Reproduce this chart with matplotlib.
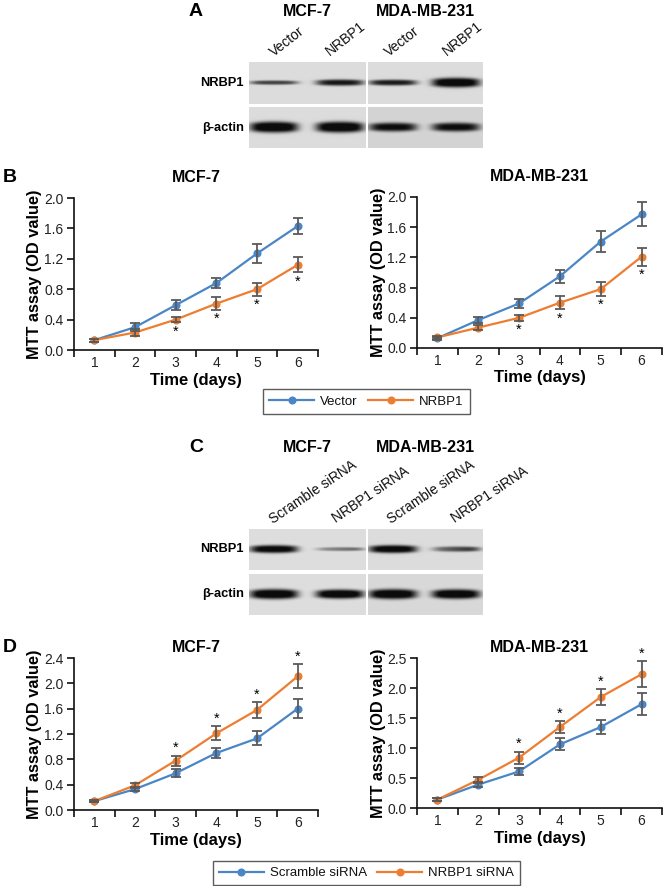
import numpy as np
import matplotlib
matplotlib.use("Agg")
import matplotlib.pyplot as plt

plt.rcParams['font.family'] = ['Liberation Sans', 'DejaVu Sans']

# ---------------- data ----------------
days = [1, 2, 3, 4, 5, 6]
day_labels = ["1", "2", "3", "4", "5", "6"]

# Panel B (overexpression)
b_mcf_vector = [0.13, 0.30, 0.59, 0.88, 1.27, 1.63]
b_mcf_vector_err = [0.02, 0.05, 0.07, 0.07, 0.13, 0.11]
b_mcf_nrbp1 = [0.13, 0.23, 0.40, 0.61, 0.80, 1.12]
b_mcf_nrbp1_err = [0.02, 0.04, 0.035, 0.085, 0.085, 0.10]

b_mda_vector = [0.13, 0.37, 0.59, 0.95, 1.41, 1.77]
b_mda_vector_err = [0.02, 0.04, 0.055, 0.085, 0.14, 0.16]
b_mda_nrbp1 = [0.14, 0.27, 0.40, 0.60, 0.78, 1.21]
b_mda_nrbp1_err = [0.02, 0.03, 0.04, 0.09, 0.09, 0.12]

b_sig_days = [3, 4, 5, 6]

# Panel D (knockdown)
d_mcf_scramble = [0.14, 0.33, 0.58, 0.90, 1.13, 1.60]
d_mcf_scramble_err = [0.02, 0.03, 0.065, 0.08, 0.11, 0.15]
d_mcf_sirna = [0.14, 0.39, 0.78, 1.21, 1.58, 2.11]
d_mcf_sirna_err = [0.02, 0.04, 0.08, 0.11, 0.12, 0.19]

d_mda_scramble = [0.14, 0.39, 0.61, 1.06, 1.35, 1.73]
d_mda_scramble_err = [0.02, 0.04, 0.06, 0.10, 0.12, 0.18]
d_mda_sirna = [0.14, 0.47, 0.84, 1.35, 1.85, 2.23]
d_mda_sirna_err = [0.02, 0.05, 0.10, 0.10, 0.13, 0.22]

d_sig_days = [3, 4, 5, 6]

# Western blot (band intensity 0-1, band thickness)
cell_lines = ["MCF-7", "MDA-MB-231"]
a_lanes = ["Vector", "NRBP1", "Vector", "NRBP1"]
a_nrbp1_int = [0.62, 0.80, 0.78, 1.0]
a_nrbp1_thick = [2.2, 3.2, 3.0, 4.8]
a_actin_int = [1.0, 1.0, 0.86, 0.86]
a_actin_thick = [5.5, 5.5, 4.5, 4.5]

c_lanes = ["Scramble siRNA", "NRBP1 siRNA", "Scramble siRNA", "NRBP1 siRNA"]
c_nrbp1_int = [0.92, 0.52, 0.94, 0.74]
c_nrbp1_thick = [4.0, 2.0, 4.0, 2.7]
c_actin_int = [1.0, 1.0, 1.0, 1.0]
c_actin_thick = [5.0, 4.6, 5.0, 4.8]

BLUE = "#4a86c6"
ORANGE = "#ed7d31"
ERR = "#5a5a5a"

W, H = 664, 886
fig = plt.figure(figsize=(W / 100, H / 100), dpi=100)


def ax_px(x0, y0, x1, y1):
    return fig.add_axes([x0 / W, 1 - y1 / H, (x1 - x0) / W, (y1 - y0) / H])


def ftext(x, y, s, **kw):
    fig.text(x / W, 1 - y / H, s, **kw)


# ---------------- blots ----------------
lane_centers = [274, 340, 393, 456]
block_x = [(249, 366), (368, 483)]


def blot_block(x0, x1, y0, y1, lanes_idx, ints, thicks, bg, taper=None):
    ax = ax_px(x0, y0, x1, y1)
    up = 4
    nx = int((x1 - x0) * up)
    ny = int((y1 - y0) * up)
    xs = np.linspace(x0, x1, nx)
    ys = np.linspace(y0, y1, ny)
    X, Y = np.meshgrid(xs, ys)
    yc = y0 + (y1 - y0) * 0.49
    dens = np.zeros_like(X)
    for k, li in enumerate(lanes_idx):
        xc = lane_centers[li]
        hw = 24
        horiz = np.exp(-np.abs((X - xc) / hw) ** 5)
        if taper is not None and taper[k]:
            horiz = horiz * (0.55 + 0.45 * np.clip((X - (xc - hw)) / (2 * hw), 0, 1))
        # thinner towards the band ends
        th = thicks[li] * (0.75 + 0.25 * np.exp(-((X - xc) / hw) ** 2))
        vert = np.exp(-np.abs((Y - yc) / th) ** 3)
        d = ints[li] * horiz * vert
        dens = 1 - (1 - dens) * (1 - d)
    img = bg - (bg - 0.05) * np.clip(dens * 1.2, 0, 1)
    ax.imshow(img, cmap="gray", vmin=0, vmax=1, aspect="auto",
              interpolation="bilinear", extent=(x0, x1, y1, y0))
    ax.set_axis_off()


def blot_panel(letter, top, lanes, lane_lx, angle, nrbp_int, nrbp_th,
               act_int, act_th, rows, bgs, taper=None):
    ftext(196, top, letter, fontsize=14, fontweight="bold", ha="center", va="center")
    ftext(307, top, cell_lines[0], fontsize=11.5, fontweight="bold", ha="center", va="center")
    ftext(425, top, cell_lines[1], fontsize=11.5, fontweight="bold", ha="center", va="center")
    for (x, y), lab in zip(lane_lx, lanes):
        fig.text(x / W, 1 - y / H, lab, fontsize=10, rotation=angle,
                 rotation_mode="anchor", ha="left", va="baseline", color="#111")
    (r1a, r1b), (r2a, r2b) = rows
    ftext(244, (r1a + r1b) / 2, "NRBP1", fontsize=9.3, fontweight="bold",
          ha="right", va="center")
    ftext(244, (r2a + r2b) / 2, "β-actin", fontsize=9.3, fontweight="bold",
          ha="right", va="center")
    for b, (bx0, bx1) in enumerate(block_x):
        idx = [2 * b, 2 * b + 1]
        tp = None if taper is None else [taper[i] for i in idx]
        blot_block(bx0, bx1, r1a, r1b, idx, nrbp_int, nrbp_th, bgs[b][0], tp)
        blot_block(bx0, bx1, r2a, r2b, idx, act_int, act_th, bgs[b][1])


blot_panel("A", 11, a_lanes, [(274, 57), (330, 56), (389, 57), (447, 56)], 38,
           a_nrbp1_int, a_nrbp1_thick, a_actin_int, a_actin_thick,
           [(62, 104), (107, 148)], [(0.86, 0.86), (0.86, 0.83)])

blot_panel("C", 448, c_lanes, [(273, 524), (336, 523), (391, 524), (455, 523)], 34,
           c_nrbp1_int, c_nrbp1_thick, c_actin_int, c_actin_thick,
           [(529, 570), (574, 615)], [(0.87, 0.87), (0.86, 0.85)],
           taper=[False, True, False, True])


# ---------------- line charts ----------------
def line_chart(rect, title, title_gap, s1, e1, s2, e2, c1, c2, lab1, lab2,
               ymax, ystep, sig_days, star_below):
    x0, y0, x1, y1 = rect
    ax = ax_px(x0, y0, x1, y1)
    h1 = ax.plot(days, s1, "-o", color=c1, lw=1.6, ms=4.8, label=lab1, zorder=3)[0]
    h2 = ax.plot(days, s2, "-o", color=c2, lw=1.6, ms=4.8, label=lab2, zorder=3)[0]
    for s, e in ((s1, e1), (s2, e2)):
        ax.errorbar(days, s, yerr=e, fmt="none", ecolor=ERR, elinewidth=1.3,
                    capsize=3.6, capthick=1.3, zorder=4)
    star_series, star_err = (s2, e2)
    for d in sig_days:
        i = days.index(d)
        if star_below:
            ax.annotate("*", xy=(d, star_series[i] - star_err[i]), xytext=(0, -1.5),
                        textcoords="offset points", ha="center", va="top", fontsize=10.5)
        else:
            ax.annotate("*", xy=(d, star_series[i] + star_err[i]), xytext=(0, 0.5),
                        textcoords="offset points", ha="center", va="bottom", fontsize=10.5)
    ax.set_xlim(0.5, 6.5)
    ax.set_ylim(0, ymax)
    ax.set_yticks(np.arange(0, ymax + 1e-9, ystep))
    ax.set_yticklabels([f"{v:.1f}" for v in np.arange(0, ymax + 1e-9, ystep)])
    ax.set_xticks(np.arange(0.5, 6.51, 1.0))
    ax.set_xticklabels([])
    ax.set_xticks(days, minor=True)
    ax.set_xticklabels(day_labels, minor=True)
    ax.tick_params(axis="x", which="major", direction="out", length=5, width=1.2, color="#111")
    ax.tick_params(axis="x", which="minor", length=0, pad=4.5, labelsize=10, labelcolor="#222")
    ax.tick_params(axis="y", direction="out", length=5, width=1.2, color="#111",
                   pad=2.5, labelsize=10, labelcolor="#222")
    for sp in ("top", "right"):
        ax.spines[sp].set_visible(False)
    for sp in ("left", "bottom"):
        ax.spines[sp].set_linewidth(1.2)
        ax.spines[sp].set_color("#111")
    ax.set_ylabel("MTT assay (OD value)", fontsize=11.8, fontweight="bold")
    ax.yaxis.label.set_va("center")
    ax.yaxis.set_label_coords(-39 / (x1 - x0), 0.5)
    ax.set_xlabel("Time (days)", fontsize=12, fontweight="bold")
    ax.xaxis.label.set_va("center")
    ax.xaxis.set_label_coords(0.5, -30 / (y1 - y0))
    ax.text(0.5, 1 + title_gap / (y1 - y0), title, transform=ax.transAxes,
            ha="center", va="center", fontsize=11.5, fontweight="bold")
    return h1, h2


ftext(10, 178, "B", fontsize=14, fontweight="bold", ha="center", va="center")
hb = line_chart((74, 198, 318, 350), "MCF-7", 20, b_mcf_vector, b_mcf_vector_err,
                b_mcf_nrbp1, b_mcf_nrbp1_err, BLUE, ORANGE, "Vector", "NRBP1",
                2.0, 0.4, b_sig_days, True)
line_chart((417, 197, 662, 348), "MDA-MB-231", 20, b_mda_vector, b_mda_vector_err,
           b_mda_nrbp1, b_mda_nrbp1_err, BLUE, ORANGE, "Vector", "NRBP1",
           2.0, 0.4, b_sig_days, True)

ftext(10, 647, "D", fontsize=14, fontweight="bold", ha="center", va="center")
hd = line_chart((74, 658, 318, 810), "MCF-7", 11, d_mcf_scramble, d_mcf_scramble_err,
                d_mcf_sirna, d_mcf_sirna_err, BLUE, ORANGE, "Scramble siRNA", "NRBP1 siRNA",
                2.4, 0.4, d_sig_days, False)
line_chart((417, 658, 662, 808), "MDA-MB-231", 11, d_mda_scramble, d_mda_scramble_err,
           d_mda_sirna, d_mda_sirna_err, BLUE, ORANGE, "Scramble siRNA", "NRBP1 siRNA",
           2.5, 0.5, d_sig_days, False)


def legend(handles, cx, cy):
    lg = fig.legend(handles=list(handles), loc="center", bbox_to_anchor=(cx / W, 1 - cy / H),
                    ncol=2, fontsize=9.5, frameon=True, fancybox=False, numpoints=1,
                    handlelength=3.4, handletextpad=0.45, columnspacing=0.8,
                    borderpad=0.45, borderaxespad=0)
    fr = lg.get_frame()
    fr.set_edgecolor("#333")
    fr.set_linewidth(1.0)
    for t in lg.get_texts():
        t.set_color("#111")


legend(hb, 366.5, 401.5)
legend(hd, 366.5, 873)

fig.savefig("out.png", dpi=100)
